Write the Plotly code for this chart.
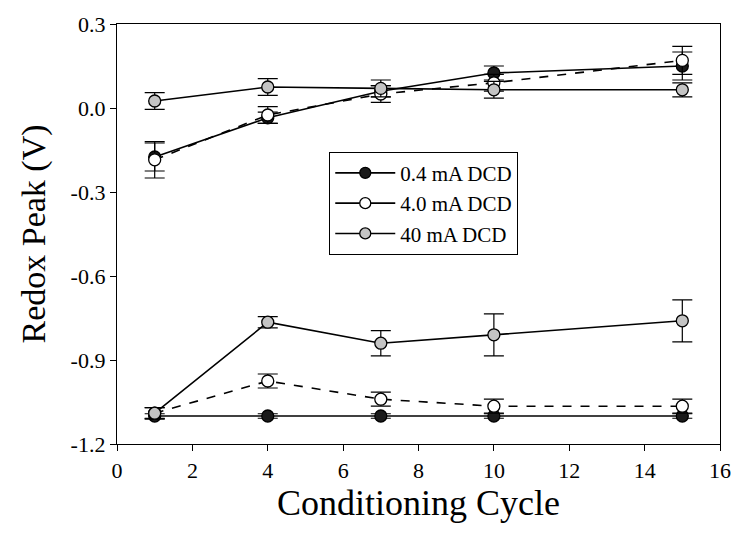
import plotly.graph_objects as go

cycles = [1, 4, 7, 10, 15]

# 0.4 mA DCD (filled black)
black_up = [-0.175, -0.035, 0.06, 0.125, 0.15]
black_up_err = [0.05, 0.02, 0.02, 0.025, 0.05]
black_lo = [-1.10, -1.10, -1.10, -1.10, -1.10]
black_lo_err = [0.008, 0.008, 0.008, 0.008, 0.008]

# 4.0 mA DCD (open)
open_up = [-0.185, -0.025, 0.05, 0.09, 0.17]
open_up_err = [0.065, 0.03, 0.03, 0.03, 0.05]
open_lo = [-1.09, -0.975, -1.04, -1.065, -1.065]
open_lo_err = [0.02, 0.025, 0.025, 0.025, 0.025]

# 40 mA DCD (grey)
grey_up = [0.025, 0.075, 0.07, 0.065, 0.065]
grey_up_err = [0.03, 0.03, 0.03, 0.03, 0.025]
grey_lo = [-1.09, -0.765, -0.84, -0.81, -0.76]
grey_lo_err = [0.02, 0.02, 0.045, 0.075, 0.075]

names = ["0.4 mA DCD", "4.0 mA DCD", "40 mA DCD"]
fills = ["#1a1a1a", "white", "#c4c4c4"]
dashes = ["solid", "dash", "solid"]

FONT = "Liberation Serif"

fig = go.Figure()
series = [
    (black_up, black_up_err, black_lo, black_lo_err),
    (open_up, open_up_err, open_lo, open_lo_err),
    (grey_up, grey_up_err, grey_lo, grey_lo_err),
]
for i, (up, uerr, lo, lerr) in enumerate(series):
    for ys, errs in ((up, uerr), (lo, lerr)):
        fig.add_trace(go.Scatter(
            x=cycles, y=ys, mode="lines+markers", showlegend=False,
            line=dict(color="black", width=1.6, dash=dashes[i]),
            marker=dict(size=12, color=fills[i], line=dict(color="black", width=1.3)),
            error_y=dict(type="data", array=errs, visible=True, color="black",
                         thickness=1.2, width=10),
        ))
for i in range(3):
    fig.add_trace(go.Scatter(
        x=[None], y=[None], mode="lines+markers", name=names[i],
        line=dict(color="black", width=1.6),
        marker=dict(size=11, color=fills[i], line=dict(color="black", width=1.3)),
    ))

fig.update_layout(
    width=743, height=540,
    margin=dict(l=117, r=18, t=20, b=96),
    paper_bgcolor="white", plot_bgcolor="white",
    font=dict(family=FONT, color="black", size=22),
    legend=dict(x=0.352, y=0.696, xanchor="left", yanchor="top",
                bordercolor="black", borderwidth=1, bgcolor="white",
                font=dict(family=FONT, size=21, color="black"), tracegroupgap=0,
                itemwidth=60),
    xaxis=dict(range=[0, 16], tickvals=[0, 2, 4, 6, 8, 10, 12, 14, 16],
               showgrid=False, zeroline=False, showline=True, linecolor="black",
               linewidth=1.4, mirror=True, ticks="outside", ticklen=6,
               tickcolor="black", tickfont=dict(family=FONT, size=22, color="black"),
               title=dict(text="Conditioning Cycle",
                          font=dict(family=FONT, size=36, color="black"), standoff=1)),
    yaxis=dict(range=[-1.2, 0.3], tickvals=[-1.2, -0.9, -0.6, -0.3, 0.0, 0.3],
               ticktext=["-1.2", "-0.9", "-0.6", "-0.3", "0.0", "0.3"],
               showgrid=False, zeroline=False, showline=True, linecolor="black",
               linewidth=1.4, mirror=True, ticks="outside", ticklen=6,
               tickcolor="black", tickfont=dict(family=FONT, size=22, color="black"),
               title=dict(text="Redox Peak (V)",
                          font=dict(family=FONT, size=34, color="black"), standoff=14)),
)

fig.write_html("out.html")
